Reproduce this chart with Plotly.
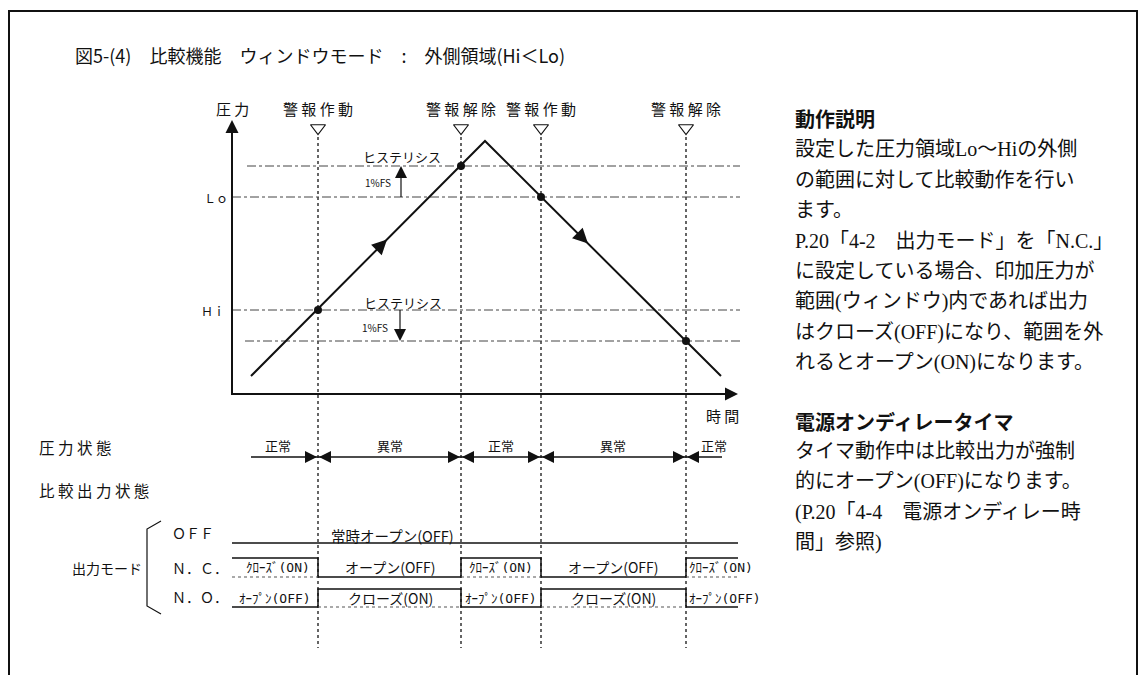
import numpy as np
import plotly.graph_objects as go

# ---------------- data ----------------
# horizontal positions (time) of the four switching events
event_x = [318, 461, 541, 686]
event_labels = ["警 報 作 動", "警 報 解 除", "警 報 作 動", "警 報 解 除"]

# pressure levels (vertical position on the drawing)
hyst_hi_y = 166   # Lo + 1%FS
lo_y = 197
hi_y = 310
hyst_lo_y = 341   # Hi - 1%FS
level_line_start = [247, 232, 232, 245]
level_line_y = [hyst_hi_y, lo_y, hi_y, hyst_lo_y]
level_line_end = 740

# pressure curve: rises, peaks, falls
pressure_x = [251, 485, 721]
pressure_y = [376, 141, 376]
switch_y = [hi_y, hyst_hi_y, lo_y, hyst_lo_y]
direction_x = [387, 588]

# pressure / time axes
axis_x0, axis_y0 = 232, 394
axis_top, axis_right = 120, 738

# pressure state row
state_labels = ["正常", "異常", "正常", "異常", "正常"]
state_label_x = [278, 390, 501, 613, 714]
state_row_x = [251, 722]
state_row_y = 457

# output mode rows
segment_edges = [232, 318, 461, 541, 686, 738]
nc_state = [1, 0, 1, 0, 1]
no_state = [0, 1, 0, 1, 0]
nc_text = ["ｸﾛｰｽﾞ(ON)", "オープン(OFF)", "ｸﾛｰｽﾞ(ON)", "オープン(OFF)", "ｸﾛｰｽﾞ(ON)"]
no_text = ["ｵｰﾌﾟﾝ(OFF)", "クローズ(ON)", "ｵｰﾌﾟﾝ(OFF)", "クローズ(ON)", "ｵｰﾌﾟﾝ(OFF)"]
nc_text_x = [278, 390, 501, 613, 721]
no_text_x = [275, 390, 501, 613, 725]
off_y = 543
nc_hi, nc_lo = 558, 577
no_hi, no_lo = 589, 607

bracket_x = [161, 147, 147, 161]
bracket_y = [521, 529, 606, 614]

title_text = "図5-(4)\u3000比較機能\u3000ウィンドウモード\u3000:\u3000外側領域(Hi＜Lo)"

body_lines_1 = [
    "設定した圧力領域Lo～Hiの外側",
    "の範囲に対して比較動作を行い",
    "ます。",
    "P.20「4-2　出力モード」を「N.C.」",
    "に設定している場合、印加圧力が",
    "範囲(ウィンドウ)内であれば出力",
    "はクローズ(OFF)になり、範囲を外",
    "れるとオープン(ON)になります。",
]
body_lines_2 = [
    "タイマ動作中は比較出力が強制",
    "的にオープン(OFF)になります。",
    "(P.20「4-4　電源オンディレー時",
    "間」参照)",
]

GOTH = "Noto Sans CJK JP"
MINCHO = "Liberation Serif, Noto Sans CJK JP"
MONO = "DejaVu Sans Mono, Noto Sans CJK JP"
INK = "#111111"
PAGE_OFFSET = 8  # browser body margin
LINE_GAP = 30.5

fig = go.Figure()


def line(xs, ys, width=2, dash="solid", color=INK, shape="linear"):
    fig.add_trace(go.Scatter(x=xs, y=ys, mode="lines", line=dict(color=color, width=width, dash=dash, shape=shape), hoverinfo="skip"))


def head(x_tail, y_tail, x_tip, y_tip, width=2, size=1.4):
    fig.add_annotation(x=x_tip, y=y_tip, ax=x_tail, ay=y_tail, xref="x", yref="y", axref="x", ayref="y",
                       text="", showarrow=True, arrowhead=2, arrowsize=size, arrowwidth=width, arrowcolor=INK, standoff=0)


def label(x, y, text, size=14, family=GOTH, anchor="center", color=INK):
    fig.add_annotation(x=x, y=y, xref="x", yref="y", text=text, showarrow=False, xanchor=anchor, yanchor="middle",
                       font=dict(family=family, size=size, color=color))


# frame (open at the bottom)
line([9, 9, 1137, 1137], [690, 11, 11, 690], width=2)

# dotted event lines
for x in event_x:
    line([x, x], [137, 648], width=1.5, dash="dot", color="#333333")

# level lines (dash-dot)
for x0, y in zip(level_line_start, level_line_y):
    line([x0, level_line_end], [y, y], width=1, dash="dashdot", color="#444444")

# axes
line([axis_x0, axis_x0, axis_right - 6], [axis_top + 6, axis_y0, axis_y0], width=2)
head(axis_x0, axis_top + 16, axis_x0, axis_top, width=2, size=1.3)
head(axis_right - 16, axis_y0, axis_right, axis_y0, width=2, size=1.3)

# pressure curve and direction arrows
line(pressure_x, pressure_y, width=2)
for dx in direction_x:
    dy = float(np.interp(dx, pressure_x, pressure_y))
    dy0 = float(np.interp(dx - 10, pressure_x, pressure_y))
    head(dx - 10, dy0, dx, dy, width=2, size=1.5)

# switching points
fig.add_trace(go.Scatter(x=event_x, y=switch_y, mode="markers", marker=dict(color=INK, size=8), hoverinfo="skip"))

# event markers and labels
fig.add_trace(go.Scatter(x=event_x, y=[128] * 4, mode="markers",
                         marker=dict(symbol="triangle-down-open", size=13, color=INK, line=dict(width=1.2)), hoverinfo="skip"))
for x, t in zip(event_x, event_labels):
    label(x, 108, t, size=15)

label(axis_x0, 108, "圧 力", size=15)
label(722, 415, "時 間", size=15)
label(216, lo_y, "Ｌｏ", size=12)
label(213, hi_y, "Ｈｉ", size=12)

# hysteresis annotations
label(402, 156, "ヒステリシス", size=13)
label(378, 182, "1%FS", size=10)
line([401, 401], [lo_y, hyst_hi_y + 8], width=1.2)
head(401, hyst_hi_y + 12, 401, hyst_hi_y, width=1.2, size=2)
label(403, 302, "ヒステリシス", size=13)
label(375, 327, "1%FS", size=10)
line([400, 400], [hi_y, hyst_lo_y - 8], width=1.2)
head(400, hyst_lo_y - 12, 400, hyst_lo_y, width=1.2, size=2)

# pressure state row
label(37, 447, "圧 力 状 態", size=15.5, anchor="left")
label(37, 490, "比 較 出 力 状 態", size=15.5, anchor="left")
line(state_row_x, [state_row_y] * 2, width=1.5)
for x in event_x:
    head(x - 14, state_row_y, x - 1, state_row_y, width=1.5, size=1.6)
    head(x + 14, state_row_y, x + 1, state_row_y, width=1.5, size=1.6)
for x, t in zip(state_label_x, state_labels):
    label(x, 445, t, size=13)

# output mode rows
label(107, 568, "出力モード", size=14)
line(bracket_x, bracket_y, width=1.2)
label(170, 533, "ＯＦＦ", size=14, anchor="left")
label(170, 568, "Ｎ．Ｃ．", size=14, anchor="left")
label(170, 597, "Ｎ．Ｏ．", size=14, anchor="left")

line([segment_edges[0], segment_edges[-1]], [off_y, off_y], width=1.5)
label(392, 535, "常時オープン(OFF)", size=14.5)

nc_levels = [nc_hi if s else nc_lo for s in nc_state]
no_levels = [no_hi if s else no_lo for s in no_state]
line(segment_edges, nc_levels + nc_levels[-1:], width=1.5, shape="hv")
line(segment_edges, no_levels + no_levels[-1:], width=1.5, shape="hv")
for i in range(5):
    if nc_state[i]:
        line(segment_edges[i:i + 2], [nc_lo, nc_lo], width=1.2, dash="dot", color="#555555")
    if no_state[i]:
        line(segment_edges[i:i + 2], [no_lo, no_lo], width=1.2, dash="dot", color="#555555")
    small_nc = nc_state[i] == 1
    small_no = no_state[i] == 0
    label(nc_text_x[i], 567, nc_text[i], size=13 if small_nc else 14, family=MONO if small_nc else GOTH)
    label(no_text_x[i], 598, no_text[i], size=13 if small_no else 14, family=MONO if small_no else GOTH)

# title
label(73, 55, title_text, size=18, anchor="left")

# explanation panel
label(793, 118, "<b>動作説明</b>", size=20, anchor="left")
for i, t in enumerate(body_lines_1):
    label(793, 149 + LINE_GAP * i, t, size=20, family=MINCHO, anchor="left")
label(793, 421, "<b>電源オンディレータイマ</b>", size=20, anchor="left")
for i, t in enumerate(body_lines_2):
    label(793, 451 + LINE_GAP * i, t, size=20, family=MINCHO, anchor="left")

fig.update_layout(
    width=1146,
    height=675,
    margin=dict(l=0, r=0, t=0, b=0),
    paper_bgcolor="white",
    plot_bgcolor="white",
    showlegend=False,
    xaxis=dict(range=[PAGE_OFFSET, 1146 + PAGE_OFFSET], visible=False, fixedrange=True),
    yaxis=dict(range=[675 + PAGE_OFFSET, PAGE_OFFSET], visible=False, fixedrange=True),
    font=dict(family=GOTH, size=14, color=INK),
)

fig.write_html("out.html")
